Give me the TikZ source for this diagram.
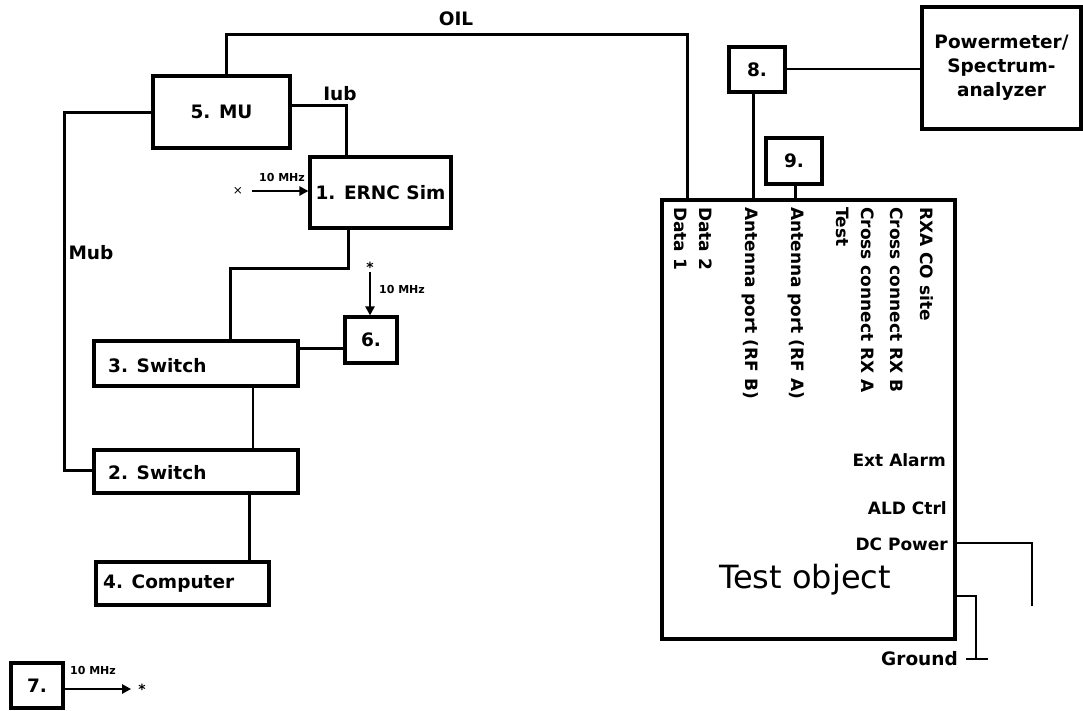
\documentclass[tikz,border=0pt]{standalone}
\usepackage{fontspec}
\setmainfont{DejaVu Sans}
\usetikzlibrary{arrows.meta,calc}
\newfontfamily\dvb{DejaVu Sans Bold}
\begin{document}
\begin{tikzpicture}[x=1pt,y=-1pt,
  box/.style={draw,line width=3.2pt,inner sep=0pt,minimum width=#1},
  lbl/.style={font=\dvb\fontsize{18.5}{21}\selectfont,inner sep=0pt},
  plbl/.style={font=\dvb\fontsize{17}{19}\selectfont,inner sep=0pt},
  rlbl/.style={font=\dvb\fontsize{17}{19}\selectfont,inner sep=0pt,rotate=-90,anchor=west},
  small/.style={font=\dvb\fontsize{11}{12}\selectfont,inner sep=0pt},
  conn/.style={line width=3pt},
  thin/.style={line width=2.5pt},
  arr/.style={line width=2.5pt,-{Triangle[length=9pt,width=9pt]}}
]
\useasboundingbox (0,0) rectangle (1083,710);
% boxes
\node[box=137pt,minimum height=72pt,lbl] (mu) at (221.5,112) {5. MU};
\node[box=141pt,minimum height=71pt,lbl] (ernc) at (380.5,192.5) {1. ERNC Sim};
\node[box=204pt,minimum height=45pt] (sw3) at (196,363.5) {};
\node[lbl,anchor=west] (sw3t) at (108,366) {3. Switch};
\node[box=52pt,minimum height=46pt,lbl] (six) at (371,340) {6.};
\node[box=204pt,minimum height=43pt] (sw2) at (196,471.5) {};
\node[lbl,anchor=west] (sw2t) at (108,473) {2. Switch};
\node[box=173pt,minimum height=43pt] (comp) at (182.5,583.5) {};
\node[lbl,anchor=west] (compt) at (103,584) {4. Computer};
\node[box=52pt,minimum height=45pt,lbl] (seven) at (37,685.5) {7.};
\node[box=56pt,minimum height=45pt,lbl] (eight) at (757,69.5) {8.};
\node[box=159pt,minimum height=122pt,lbl,align=center] (pm) at (1001.5,68) {Powermeter/\\[3pt]Spectrum-\\[3pt]analyzer};
\node[box=56pt,minimum height=46pt,lbl] (nine) at (794,161) {9.};
\node[box=293pt,minimum height=439pt] (test) at (808.5,419.5) {};
% test object labels
\node[rlbl] (d1) at (681,207) {Data 1};
\node[rlbl] (d2) at (706,207) {Data 2};
\node[rlbl] (rfb) at (750,207) {Antenna port (RF B)};
\node[rlbl] (rfa) at (796,207) {Antenna port (RF A)};
\node[rlbl] (tst) at (843,207) {Test};
\node[rlbl] (ccra) at (868,207) {Cross connect RX A};
\node[rlbl] (ccrb) at (897,207) {Cross connect RX B};
\node[rlbl] (rxa) at (927,207) {RXA CO site};
\node[plbl,anchor=east] (ext) at (946,460) {Ext Alarm};
\node[plbl,anchor=east] (ald) at (947,508) {ALD Ctrl};
\node[plbl,anchor=east] (dcp) at (948,544) {DC Power};
\node[font=\fontsize{32}{36}\selectfont,inner sep=0pt] (tobj) at (805,580) {Test object};
\node[lbl,anchor=east] (gnd) at (958,659) {Ground};
% connector labels
\node[lbl] (oil) at (456,19) {OIL};
\node[lbl] (iub) at (340,94) {Iub};
\node[lbl] (mubt) at (91,253) {Mub};
% coordinates
\coordinate (oilL) at (226,34);
\coordinate (oilR) at (687,34);
\coordinate (iubc) at (346,105);
\coordinate (mub1) at (64,112);
\coordinate (mub2) at (64,470);
\coordinate (e1) at (348,268);
\coordinate (e2) at (230,268);
\coordinate (s6) at (345,348);
\coordinate (c32) at (253,420);
\coordinate (c2c) at (249,530);
\coordinate (p8) at (850,69);
\coordinate (c8) at (753,150);
\coordinate (c9) at (795,190);
\coordinate (dc1) at (1032,543);
\coordinate (dc2) at (1032,606);
\coordinate (g1) at (976,596);
\coordinate (g2) at (976,659);
\coordinate (gL) at (966,659);
\coordinate (gR) at (988,659);
\coordinate (x1s) at (252,191);
% connectors
\draw[conn] (mu.north -| oilL) -- (oilL) -- (oilR) -- (test.north -| oilR);
\draw[conn] (mu.east |- iubc) -- (iubc) -- (ernc.north -| iubc);
\draw[conn] (mu.west |- mub1) -- (mub1) -- (mub2) -- (sw2.west |- mub2);
\draw[conn] (ernc.south -| e1) -- (e1) -- (e2) -- (sw3.north -| e2);
\draw[conn] (sw3.east |- s6) -- (six.west |- s6);
\draw[thin] (sw3.south -| c32) -- (sw2.north -| c32);
\draw[conn] (sw2.south -| c2c) -- (comp.north -| c2c);
\draw[thin] (eight.east |- p8) -- (pm.west |- p8);
\draw[conn] (eight.south -| c8) -- (test.north -| c8);
\draw[conn] (nine.south -| c9) -- (test.north -| c9);
\draw[thin] (test.east |- dc1) -- (dc1) -- (dc2);
\draw[thin] (test.east |- g1) -- (g1) -- (g2);
\draw[thin] (gL) -- (gR);
% 10 MHz references
\node[inner sep=0pt,font=\fontsize{12}{12}\selectfont] (x1) at (238,191) {×};
\draw[arr] (x1s) -- (ernc.west |- x1s);
\node[small] (m1) at (282,177) {10 MHz};
\node[inner sep=0pt,font=\dvb\fontsize{14}{14}\selectfont] (st6) at (370,267) {*};
\draw[arr] (st6.south) -- (six.north -| st6);
\node[small] (m6) at (402,289) {10 MHz};
\node[inner sep=0pt,font=\dvb\fontsize{14}{14}\selectfont] (st7) at (142,689) {*};
\draw[arr,shorten >=7pt] (seven.east |- st7) -- (st7.west);
\node[small] (m7) at (93,670) {10 MHz};
\end{tikzpicture}
\end{document}
